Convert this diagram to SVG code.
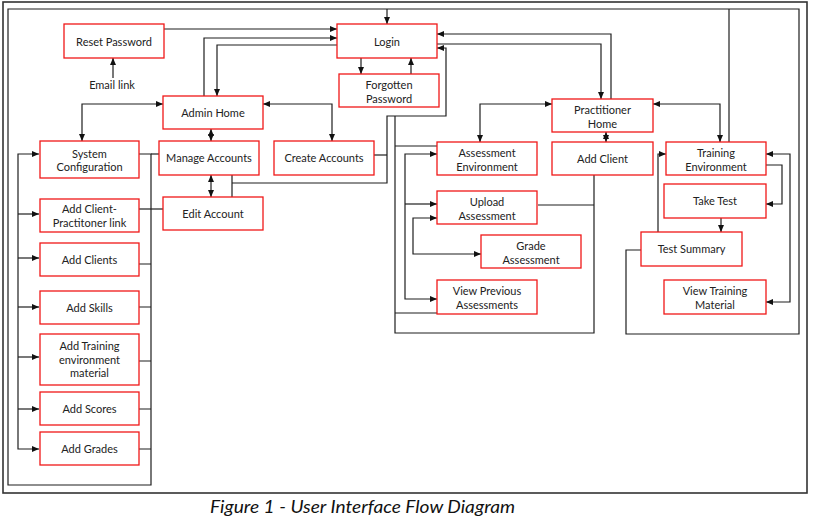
<svg xmlns="http://www.w3.org/2000/svg" width="821" height="526" viewBox="0 0 821 526">
<style>
.box{fill:#fff;stroke:#f01818;stroke-width:1.3}
.t{font-family:Lato,"Open Sans",sans-serif;font-size:11px;fill:#222;text-anchor:middle}
.c{fill:none;stroke:#1e1e1e;stroke-width:1.2}
.cap{font-family:Lato,"Open Sans",sans-serif;font-style:italic;font-size:18px;fill:#111}
</style>
<defs>
<marker id="ah" viewBox="0 0 7 6" refX="7" refY="3" markerWidth="7" markerHeight="6" markerUnits="userSpaceOnUse" orient="auto-start-reverse">
<path d="M0,0 L7,3 L0,6 z" fill="#111"/>
</marker>
</defs>
<rect width="821" height="526" fill="#fff"/>
<rect x="3" y="2" width="804" height="491" fill="none" stroke="#333" stroke-width="1.6"/>

<g id="connectors">
<path class="c" d="M164,29 H337" marker-end="url(#ah)"/>
<path class="c" d="M204,96 V38 H337" marker-end="url(#ah)"/>
<path class="c" d="M337,45 H217 V96" marker-end="url(#ah)"/>
<path class="c" d="M387,9 V24" marker-end="url(#ah)"/>
<path class="c" d="M361,58 V74" marker-end="url(#ah)"/>
<path class="c" d="M411,74 V58" marker-end="url(#ah)"/>
<path class="c" d="M113,78 V58" marker-end="url(#ah)"/>
<path class="c" d="M163,104 H82 V141" marker-start="url(#ah)" marker-end="url(#ah)"/>
<path class="c" d="M263,104 H332 V141" marker-start="url(#ah)" marker-end="url(#ah)"/>
<path class="c" d="M211,129 V141" marker-start="url(#ah)" marker-end="url(#ah)"/>
<path class="c" d="M211,175 V197" marker-start="url(#ah)" marker-end="url(#ah)"/>
<path class="c" d="M232,175 V197"/>
<path class="c" d="M232,183 H387 V116 H446 V48 H437" marker-end="url(#ah)"/>
<path class="c" d="M374,155 H387"/>
<path class="c" d="M395,116 V333 H594 V175"/>
<path class="c" d="M395,146 H437"/>
<path class="c" d="M395,313 H437"/>
<path class="c" d="M538,205 H594"/>
<path class="c" d="M437,44 H601 V99" marker-end="url(#ah)"/>
<path class="c" d="M611,99 V34 H437" marker-end="url(#ah)"/>
<path class="c" d="M552,104 H480 V142" marker-start="url(#ah)" marker-end="url(#ah)"/>
<path class="c" d="M653,104 H720 V142" marker-start="url(#ah)" marker-end="url(#ah)"/>
<path class="c" d="M606,132 V142" marker-start="url(#ah)" marker-end="url(#ah)"/>
<path class="c" d="M437,154 H405 V299 H437" marker-start="url(#ah)" marker-end="url(#ah)"/>
<path class="c" d="M405,204 H437" marker-end="url(#ah)"/>
<path class="c" d="M437,218 H413 V254 H481" marker-start="url(#ah)" marker-end="url(#ah)"/>
<path class="c" d="M729,142 V9"/>
<path class="c" d="M766,165 H782 V204 H766" marker-end="url(#ah)"/>
<path class="c" d="M766,154 H790 V302 H766" marker-start="url(#ah)" marker-end="url(#ah)"/>
<path class="c" d="M658,232 V154 H666" marker-end="url(#ah)"/>
<path class="c" d="M721,218 V232" marker-end="url(#ah)"/>
<path class="c" d="M641,250 H626 V334 H799 V9 H8 V485 H151 V154 H139"/>
<path class="c" d="M151,154 H159"/>
<path class="c" d="M139,209 H163"/>
<path class="c" d="M139,264 H151 M139,307 H151 M139,361 H151 M139,409 H151 M139,449 H151"/>
<path class="c" d="M39,449 H18 V154 H39" marker-start="url(#ah)" marker-end="url(#ah)"/>
<path class="c" d="M18,214 H39" marker-end="url(#ah)"/>
<path class="c" d="M18,258 H39" marker-end="url(#ah)"/>
<path class="c" d="M18,307 H39" marker-end="url(#ah)"/>
<path class="c" d="M18,357 H39" marker-end="url(#ah)"/>
<path class="c" d="M18,409 H39" marker-end="url(#ah)"/>
</g>

<text class="t" x="112" y="89">Email link</text>

<g id="reset"><rect class="box" x="64" y="24" width="100" height="34"/><text class="t" x="114" y="45.5">Reset Password</text></g>
<g id="login"><rect class="box" x="337" y="24" width="100" height="34"/><text class="t" x="387" y="45.5">Login</text></g>
<g id="forgotten"><rect class="box" x="339" y="74" width="100" height="33"/><text class="t" x="389" y="89">Forgotten</text><text class="t" x="389" y="103">Password</text></g>
<g id="admin-home"><rect class="box" x="163" y="96" width="100" height="33"/><text class="t" x="213" y="116.5">Admin Home</text></g>
<g id="system-config"><rect class="box" x="40" y="141" width="99" height="37"/><text class="t" x="89.5" y="158">System</text><text class="t" x="89.5" y="171">Configuration</text></g>
<g id="manage-accounts"><rect class="box" x="159" y="141" width="100" height="34"/><text class="t" x="209" y="162">Manage Accounts</text></g>
<g id="create-accounts"><rect class="box" x="274" y="141" width="100" height="34"/><text class="t" x="324" y="162">Create Accounts</text></g>
<g id="edit-account"><rect class="box" x="163" y="197" width="100" height="33"/><text class="t" x="213" y="218">Edit Account</text></g>
<g id="add-link"><rect class="box" x="40" y="199" width="99" height="33"/><text class="t" x="89.5" y="213">Add Client-</text><text class="t" x="89.5" y="227">Practitoner link</text></g>
<g id="add-clients"><rect class="box" x="40" y="243" width="99" height="33"/><text class="t" x="89.5" y="264">Add Clients</text></g>
<g id="add-skills"><rect class="box" x="40" y="291" width="99" height="33"/><text class="t" x="89.5" y="312">Add Skills</text></g>
<g id="add-training"><rect class="box" x="40" y="334" width="99" height="51"/><text class="t" x="89.5" y="350">Add Training</text><text class="t" x="89.5" y="363.5">environment</text><text class="t" x="89.5" y="377">material</text></g>
<g id="add-scores"><rect class="box" x="40" y="392" width="99" height="33"/><text class="t" x="89.5" y="412.5">Add Scores</text></g>
<g id="add-grades"><rect class="box" x="40" y="432" width="99" height="33"/><text class="t" x="89.5" y="452.5">Add Grades</text></g>
<g id="practitioner-home"><rect class="box" x="552" y="99" width="101" height="33"/><text class="t" x="602.5" y="114">Practitioner</text><text class="t" x="602.5" y="128">Home</text></g>
<g id="assessment-env"><rect class="box" x="437" y="142" width="100" height="33"/><text class="t" x="487" y="157">Assessment</text><text class="t" x="487" y="171">Environment</text></g>
<g id="add-client"><rect class="box" x="552" y="142" width="101" height="33"/><text class="t" x="602.5" y="162.5">Add Client</text></g>
<g id="upload"><rect class="box" x="437" y="191" width="100" height="33"/><text class="t" x="487" y="205.5">Upload</text><text class="t" x="487" y="219.5">Assessment</text></g>
<g id="grade"><rect class="box" x="481" y="235" width="100" height="33"/><text class="t" x="531" y="250">Grade</text><text class="t" x="531" y="264">Assessment</text></g>
<g id="view-previous"><rect class="box" x="437" y="280" width="100" height="34"/><text class="t" x="487" y="295">View Previous</text><text class="t" x="487" y="309">Assessments</text></g>
<g id="training-env"><rect class="box" x="666" y="142" width="100" height="33"/><text class="t" x="716" y="156.5">Training</text><text class="t" x="716" y="170.5">Environment</text></g>
<g id="take-test"><rect class="box" x="664" y="184" width="102" height="34"/><text class="t" x="715" y="205">Take Test</text></g>
<g id="test-summary"><rect class="box" x="641" y="232" width="101" height="34"/><text class="t" x="691.5" y="253">Test Summary</text></g>
<g id="view-training"><rect class="box" x="664" y="280" width="102" height="34"/><text class="t" x="715" y="295">View Training</text><text class="t" x="715" y="309">Material</text></g>

<text class="cap" x="210" y="513" textLength="305" lengthAdjust="spacingAndGlyphs">Figure 1 - User Interface Flow Diagram</text>
</svg>
